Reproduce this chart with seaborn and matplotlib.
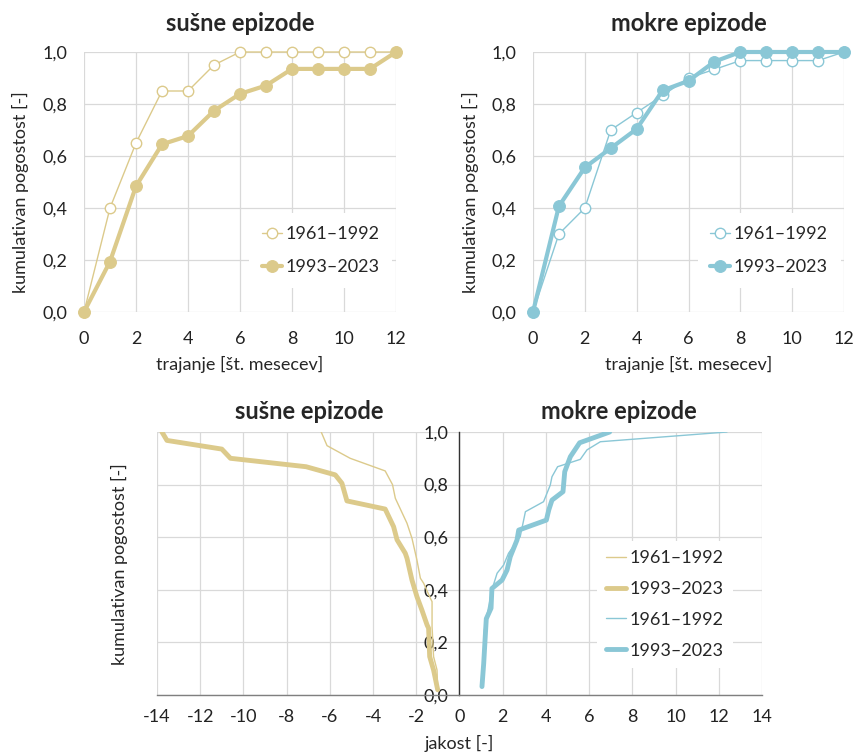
import numpy as np
import pandas as pd
import matplotlib
matplotlib.use("Agg")
import matplotlib.pyplot as plt
import seaborn as sns
from matplotlib.ticker import FuncFormatter, MultipleLocator

sns.set_theme(style="white")
plt.rcParams['font.family'] = ['Lato', 'DejaVu Sans']
plt.rcParams['axes.unicode_minus'] = False

TAN = "#DCCA8B"
BLUE = "#8AC7D6"
GRID = "#D9D9D9"

# cumulative frequency vs. duration (months)
months = list(range(13))
dry_1961 = [0, 0.40, 0.65, 0.85, 0.85, 0.95, 1.0, 1.0, 1.0, 1.0, 1.0, 1.0, 1.0]
dry_1993 = [0, 0.194, 0.484, 0.645, 0.677, 0.774, 0.839, 0.871, 0.935, 0.935, 0.935, 0.935, 1.0]
wet_1961 = [0, 0.30, 0.40, 0.70, 0.767, 0.833, 0.90, 0.933, 0.967, 0.967, 0.967, 0.967, 1.0]
wet_1993 = [0, 0.407, 0.556, 0.630, 0.704, 0.852, 0.889, 0.963, 1.0, 1.0, 1.0, 1.0, 1.0]

# cumulative frequency vs. intensity
dry_1961_x = [-1.01, -1.04, -1.2, -1.27, -1.27, -1.35, -1.66, -1.81, -1.97, -2.2, -2.43, -2.97, -3.1, -3.44, -5.06, -6.13, -6.40]
dry_1961_y = [0.02, 0.095, 0.146, 0.26, 0.355, 0.368, 0.425, 0.444, 0.513, 0.596, 0.653, 0.748, 0.80, 0.852, 0.90, 0.948, 1.0]
dry_1993_x = [-1.01, -1.2, -1.38, -1.43, -1.5, -1.74, -1.97, -2.2, -2.43, -2.51, -2.89, -3.05, -3.44, -5.21, -5.44, -5.75, -7.1, -10.6, -11.0, -13.54, -13.77]
dry_1993_y = [0.02, 0.095, 0.146, 0.254, 0.266, 0.323, 0.374, 0.437, 0.52, 0.539, 0.59, 0.64, 0.707, 0.738, 0.805, 0.837, 0.868, 0.90, 0.935, 0.968, 1.0]
wet_1961_x = [1.02, 1.1, 1.15, 1.24, 1.5, 1.74, 2.04, 2.27, 2.81, 3.05, 3.89, 4.2, 4.28, 4.54, 5.59, 5.9, 6.52, 12.38]
wet_1961_y = [0.03, 0.12, 0.247, 0.29, 0.40, 0.463, 0.494, 0.539, 0.602, 0.697, 0.735, 0.798, 0.83, 0.868, 0.896, 0.932, 0.963, 1.0]
wet_1993_x = [1.04, 1.12, 1.19, 1.24, 1.46, 1.5, 1.97, 2.2, 2.35, 2.66, 2.74, 4.02, 4.13, 4.28, 4.79, 4.87, 5.13, 5.56, 6.95]
wet_1993_y = [0.032, 0.12, 0.22, 0.29, 0.33, 0.405, 0.437, 0.475, 0.526, 0.589, 0.627, 0.665, 0.703, 0.741, 0.773, 0.849, 0.906, 0.959, 1.0]

comma = FuncFormatter(lambda v, p: f"{v:.1f}".replace(".", ","))

W, H = 854, 753
FS = 13
TFS = 17
fig = plt.figure(figsize=(W / 100, H / 100), dpi=100)


def px_axes(x0, x1, y0, y1):
    return fig.add_axes([x0 / W, 1 - y1 / H, (x1 - x0) / W, (y1 - y0) / H])


def duration_panel(ax, old, new, color, title, leg_x):
    sns.lineplot(x=months, y=old, ax=ax, color=color, lw=1, marker="o", ms=7.5,
                 markerfacecolor="white", markeredgecolor=color, mew=1, label="1961–1992")
    sns.lineplot(x=months, y=new, ax=ax, color=color, lw=3, marker="o", ms=8.5,
                 markeredgecolor=color, label="1993–2023")
    for ln in ax.lines:
        ln.set_clip_on(False)
    ax.set_xlim(0, 12)
    ax.set_ylim(0, 1)
    ax.xaxis.set_major_locator(MultipleLocator(2))
    ax.yaxis.set_major_locator(MultipleLocator(0.2))
    ax.yaxis.set_major_formatter(comma)
    ax.grid(True, color=GRID, lw=0.9)
    for s in ax.spines.values():
        s.set_visible(False)
    ax.tick_params(axis="both", length=0, labelsize=FS, colors="#222222")
    ax.tick_params(axis="y", pad=12)
    ax.tick_params(axis="x", pad=14)
    ax.set_title(title, fontsize=TFS, fontweight="bold", pad=15)
    ax.set_xlabel("trajanje [št. mesecev]", fontsize=FS, labelpad=6)
    ax.set_ylabel("kumulativan pogostost [-]", fontsize=FS)
    ax.yaxis.set_label_coords(-0.175, 0.46)
    ax.legend(loc="upper left", bbox_to_anchor=(leg_x, 0.38), borderaxespad=0,
              fontsize=FS, handlelength=1.1, handletextpad=0.2, labelspacing=0.95,
              borderpad=0.7, frameon=True, facecolor="white", edgecolor="none",
              framealpha=1, fancybox=False)


ax1 = px_axes(84, 396, 52, 312)
duration_panel(ax1, dry_1961, dry_1993, TAN, "sušne epizode", 0.53)
ax2 = px_axes(533, 844, 52, 312)
duration_panel(ax2, wet_1961, wet_1993, BLUE, "mokre epizode", 0.53)

# intensity panel
ax3 = px_axes(157, 762, 432, 695)
curves = [
    (dry_1961_x, dry_1961_y, TAN, 1.0),
    (dry_1993_x, dry_1993_y, TAN, 3.5),
    (wet_1961_x, wet_1961_y, BLUE, 1.0),
    (wet_1993_x, wet_1993_y, BLUE, 3.5),
]
labels = ["1961–1992", "1993–2023", "1961–1992", "1993–2023"]
for (xs, ys, c, lw), lab in zip(curves, labels):
    sns.lineplot(x=xs, y=ys, ax=ax3, color=c, lw=lw, sort=False, estimator=None, label=lab)
ax3.set_xlim(-14, 14)
ax3.set_ylim(0, 1)
ax3.xaxis.set_major_locator(MultipleLocator(2))
ax3.yaxis.set_major_locator(MultipleLocator(0.2))
ax3.yaxis.set_major_formatter(comma)
ax3.grid(True, color=GRID, lw=0.9)
ax3.set_axisbelow(True)
ax3.spines["top"].set_visible(False)
ax3.spines["right"].set_visible(False)
ax3.spines["left"].set_position(("data", 0))
ax3.spines["left"].set_color("#333333")
ax3.spines["left"].set_linewidth(1.0)
ax3.spines["bottom"].set_color("#7f7f7f")
ax3.spines["bottom"].set_linewidth(1.0)
ax3.tick_params(axis="both", direction="inout", length=6, width=1, labelsize=FS,
                colors="#222222")
ax3.tick_params(axis="x", color="#7f7f7f", pad=7)
ax3.tick_params(axis="y", color="#333333", pad=5)
ax3.set_xlabel("jakost [-]", fontsize=FS, labelpad=7)
ax3.set_ylabel("")
fig.text(119 / W, 1 - 564 / H, "kumulativan pogostost [-]", rotation=90,
         ha="center", va="center", fontsize=FS)
fig.text(309 / W, 1 - 412 / H, "sušne epizode", ha="center", va="center",
         fontsize=TFS, fontweight="bold")
fig.text(619 / W, 1 - 412 / H, "mokre epizode", ha="center", va="center",
         fontsize=TFS, fontweight="bold")
ax3.legend(loc="upper left", bbox_to_anchor=(0.728, 0.585), borderaxespad=0,
           fontsize=FS, handlelength=1.1, handletextpad=0.2, labelspacing=0.82,
           borderpad=0.5, frameon=True, facecolor="white", edgecolor="none",
           framealpha=1, fancybox=False)

fig.savefig("out.png", dpi=100)
